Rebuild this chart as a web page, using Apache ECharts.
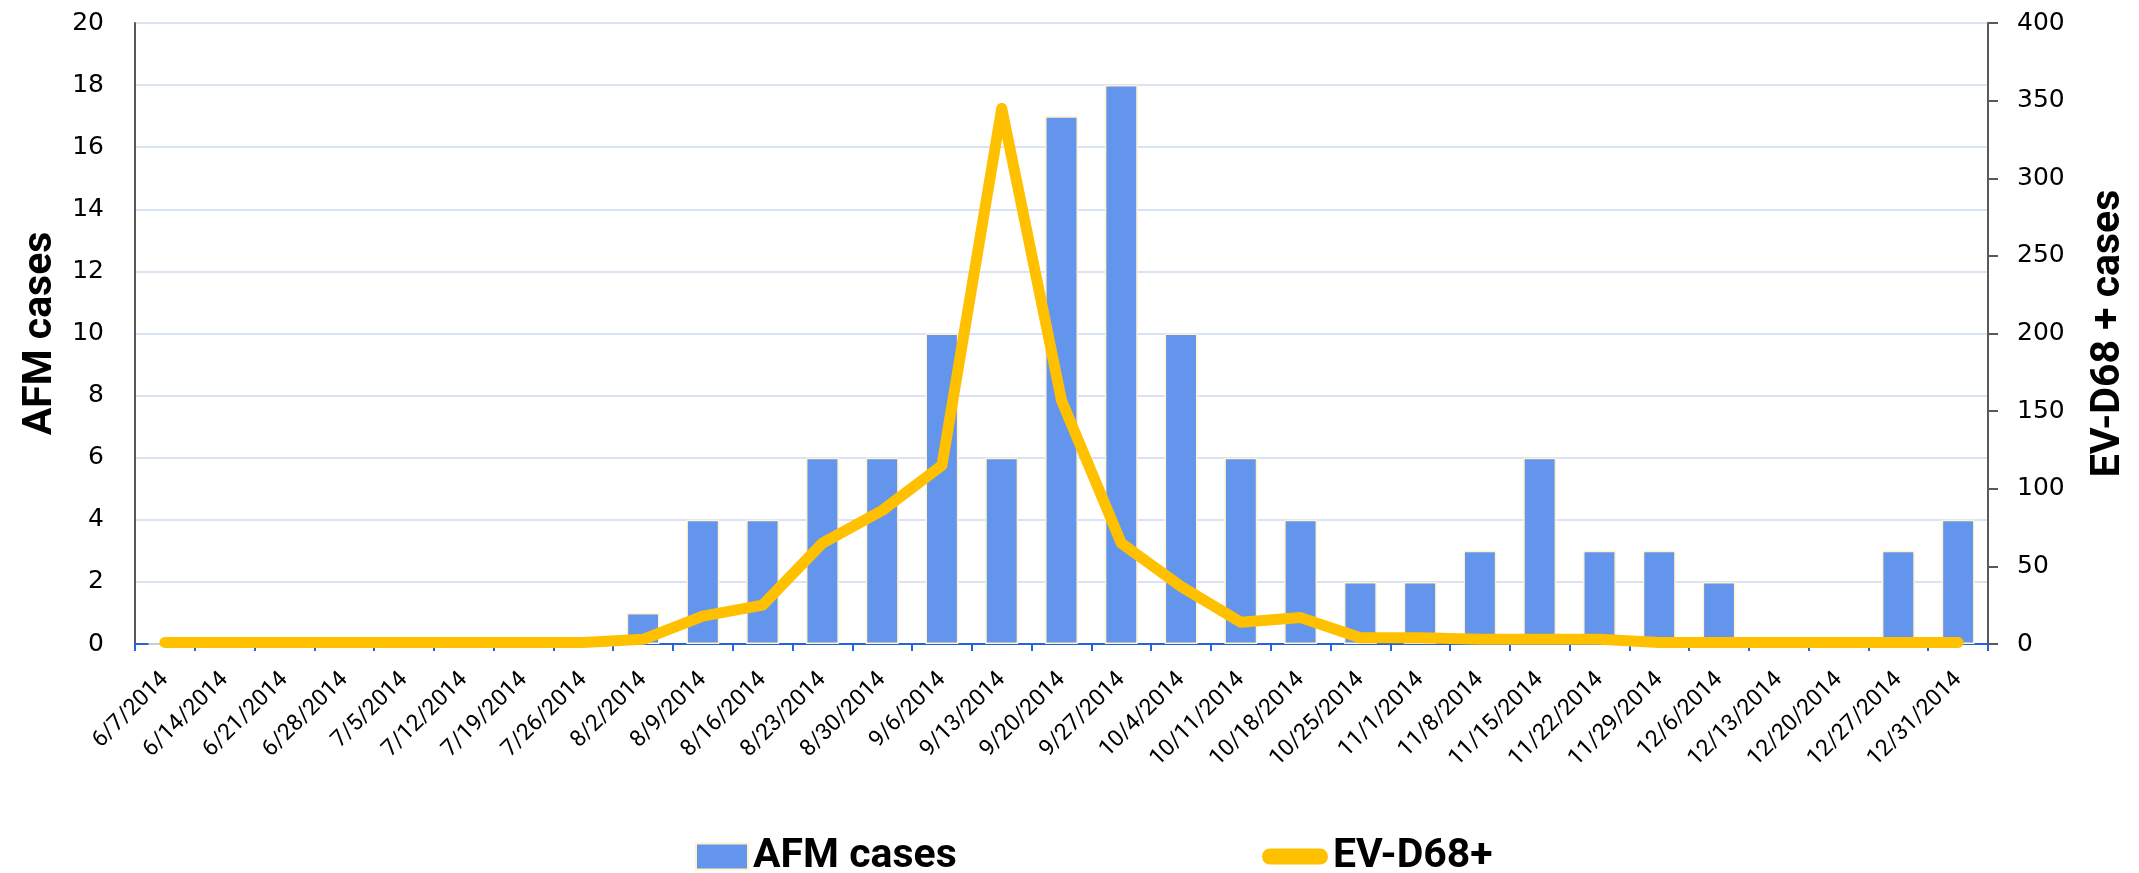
<!DOCTYPE html>
<html>
<head>
<meta charset="utf-8">
<script src="https://cdn.jsdelivr.net/npm/echarts@6/dist/echarts.min.js"></script>
<style>
html,body{margin:0;padding:0;background:#fff;}
#chart{width:2139px;height:873px;}
</style>
</head>
<body>
<div id="chart"></div>
<script>
const categories = ['6/7/2014','6/14/2014','6/21/2014','6/28/2014','7/5/2014','7/12/2014','7/19/2014','7/26/2014','8/2/2014','8/9/2014','8/16/2014','8/23/2014','8/30/2014','9/6/2014','9/13/2014','9/20/2014','9/27/2014','10/4/2014','10/11/2014','10/18/2014','10/25/2014','11/1/2014','11/8/2014','11/15/2014','11/22/2014','11/29/2014','12/6/2014','12/13/2014','12/20/2014','12/27/2014','12/31/2014'];
const afmCases = [0,0,0,0,0,0,0,0,1,4,4,6,6,10,6,17,18,10,6,4,2,2,3,6,3,3,2,0,0,3,4];
const evd68Cases = [1,1,1,1,1,1,1,1,3,18,25,65,86,115,345,157,65,37,14,17,4,4,3,3,3,1,1,1,1,1,1];
const afmName = 'AFM cases';
const evName = 'EV-D68+';

const chart = echarts.init(document.getElementById('chart'));
const labelFont = 'DejaVu Sans';
const boldFont = 'Roboto';
chart.setOption({
  animation: false,
  backgroundColor: '#ffffff',
  grid: {left: 135, right: 151, top: 23, bottom: 229, containLabel: false},
  legend: [
    {
      data: [afmName], left: 690, top: 831, icon: 'rect',
      itemWidth: 52, itemHeight: 26, itemGap: 0,
      textStyle: {fontFamily: boldFont, fontWeight: 'bold', fontSize: 41, color: '#000'}
    },
    {
      data: [{name: evName, icon: 'path://M8,0 H58 A8,8 0 0 1 58,16 H8 A8,8 0 0 1 8,0 Z'}],
      left: 1257, top: 831,
      itemWidth: 66, itemHeight: 16, itemGap: 0,
      textStyle: {fontFamily: boldFont, fontWeight: 'bold', fontSize: 41, color: '#000'}
    }
  ],
  xAxis: {
    type: 'category', data: categories, boundaryGap: true,
    axisLine: {show: true, lineStyle: {color: '#2463D9', width: 2}},
    axisTick: {show: true, length: 7, lineStyle: {color: '#2463D9', width: 2}},
    axisLabel: {rotate: 45, interval: 0, margin: 32, fontFamily: 'Roboto', fontSize: 23, color: '#000'}
  },
  yAxis: [
    {
      type: 'value', min: 0, max: 20, interval: 2,
      name: afmName, nameLocation: 'middle', nameGap: 72, nameRotate: 90,
      nameTextStyle: {fontFamily: boldFont, fontWeight: 'bold', fontSize: 41, color: '#000'},
      axisLine: {show: true, lineStyle: {color: '#595959', width: 2}},
      axisTick: {show: false},
      axisLabel: {margin: 31, fontFamily: labelFont, fontSize: 25, color: '#000'},
      splitLine: {show: true, lineStyle: {color: '#DAE3F3', width: 2}}
    },
    {
      type: 'value', min: 0, max: 400, interval: 50, position: 'right',
      name: 'EV-D68 + cases', nameLocation: 'middle', nameGap: 100, nameRotate: 90,
      nameTextStyle: {fontFamily: boldFont, fontWeight: 'bold', fontSize: 41, color: '#000'},
      axisLine: {show: true, lineStyle: {color: '#595959', width: 2}},
      axisTick: {show: true, inside: false, length: 10, lineStyle: {color: '#595959', width: 2}},
      axisLabel: {margin: 29, fontFamily: labelFont, fontSize: 25, color: '#000'},
      splitLine: {show: false}
    }
  ],
  series: [
    {
      name: afmName, type: 'bar', yAxisIndex: 0, data: afmCases, barWidth: '55%',
      itemStyle: {color: '#6495ED', borderColor: '#FFF2CC', borderWidth: 1.5}
    },
    {
      name: evName, type: 'line', yAxisIndex: 1, data: evd68Cases,
      showSymbol: false, symbol: 'none', z: 5,
      lineStyle: {color: '#FFC000', width: 11, cap: 'round', join: 'round'},
      itemStyle: {color: '#FFC000'}
    }
  ]
});
</script>
</body>
</html>
